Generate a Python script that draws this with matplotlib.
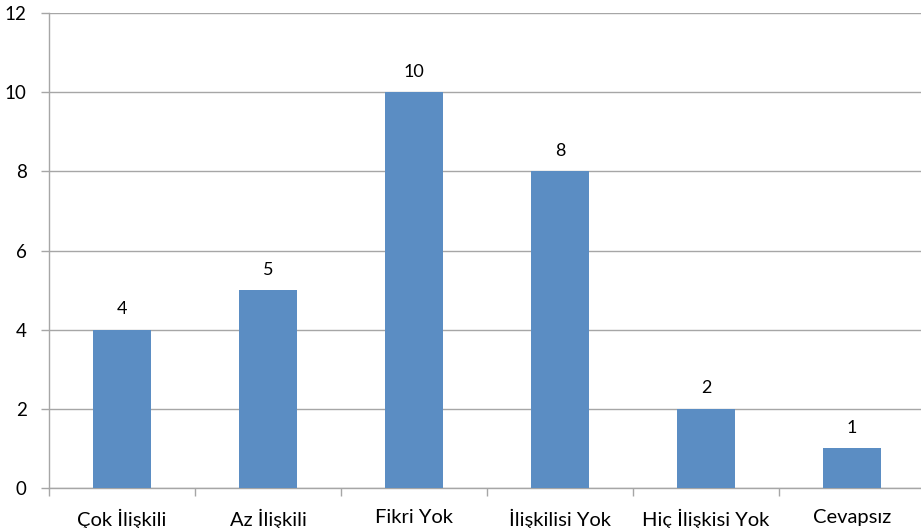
import matplotlib
matplotlib.use("Agg")
import matplotlib.pyplot as plt
import numpy as np

categories = ["Çok İlişkili", "Az İlişkili", "Fikri Yok", "İlişkilisi Yok", "Hiç İlişkisi Yok", "Cevapsız"]
values = [4, 5, 10, 8, 2, 1]
yticks = [0, 2, 4, 6, 8, 10, 12]

plt.rcParams['font.family'] = ['Lato', 'DejaVu Sans']

W, H = 921, 528
fig = plt.figure(figsize=(W / 100, H / 100), dpi=100)
left, right, top, bottom = 49, 925, 13, 488
ax = fig.add_axes([left / W, 1 - bottom / H, (right - left) / W, (bottom - top) / H])

grid_c = "#A6A6A6"
x = np.arange(len(categories))
bars = ax.bar(x, values, width=0.4, color="#5B8DC3", zorder=3)
ax.bar_label(bars, labels=[str(v) for v in values], padding=9, fontsize=13, color="#000000")

ax.set_xlim(-0.5, len(categories) - 0.5)
ax.set_ylim(0, 12)
ax.set_yticks(yticks)
ax.set_yticklabels([str(t) for t in yticks], fontsize=13.5)
ax.yaxis.grid(True, color=grid_c, linewidth=1.0, zorder=0)
ax.tick_params(axis="y", length=6, width=1, color=grid_c, pad=10)

ax.set_xticks(x)
ax.set_xticklabels(categories, fontsize=14.5)
ax.tick_params(axis="x", which="major", length=0, pad=15)
ax.set_xticks(np.arange(-0.5, len(categories), 1.0), minor=True)
ax.tick_params(axis="x", which="minor", length=6, width=1, color=grid_c)

for s in ["top", "right"]:
    ax.spines[s].set_visible(False)
for s in ["left", "bottom"]:
    ax.spines[s].set_color(grid_c)
    ax.spines[s].set_linewidth(1.0)

fig.savefig("out.png", dpi=100)
